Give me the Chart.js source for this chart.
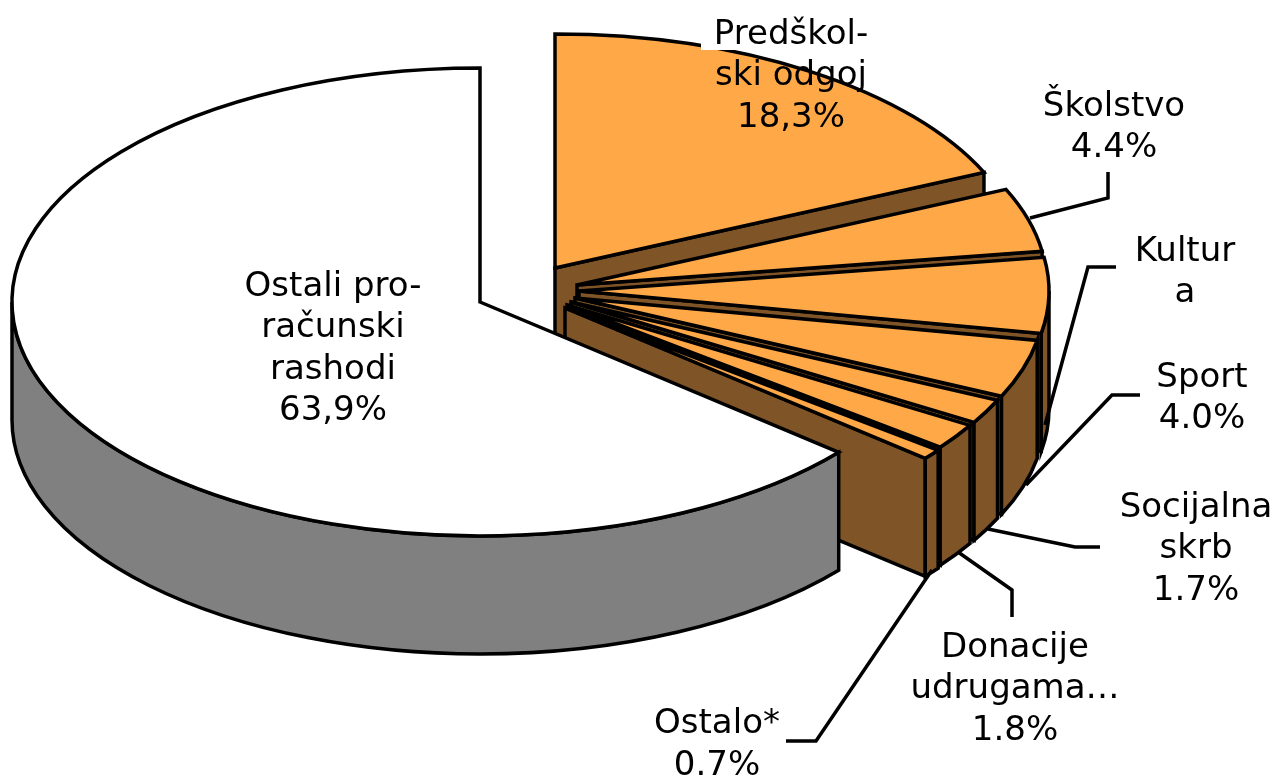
<!DOCTYPE html>
<html><head><meta charset="utf-8">
<style>html,body{margin:0;padding:0;background:#fff}#w{position:relative;width:1275px;height:776px}canvas{display:block}</style>
<script src="https://cdn.jsdelivr.net/npm/chart.js@4"></script>
</head><body><div id="w"><canvas id="c" width="1275" height="776"></canvas></div>
<script>
const categories = ['Predškolski odgoj','Školstvo','Kultura','Sport','Socijalna skrb','Donacije udrugama','Ostalo*','Ostali proračunski rashodi'];
const shares = [18.3,4.4,5.2,4.0,1.7,1.8,0.7,63.9];
const topColors = ['#FFA848','#FFA848','#FFA848','#FFA848','#FFA848','#FFA848','#FFA848','#FFFFFF'];
const sideColors = ['#7F5426','#7F5426','#7F5426','#7F5426','#7F5426','#7F5426','#7F5426','#808080'];

// Look of the 3D pie: where each exploded slice has its tip, ellipse radii, wall height.
const tips = [[555,268],[577,285],[579,291],[575,298],[571,302],[567,305],[565,308],[480,302]];
const radiiX = [470,470,470,470,470,470,470,468];
const RY = 234, DEPTH = 118, LW = 3.5;

const labelLayout = [
 {lines:['Predškol-','ski odgoj','18,3%'], x:791, y:35, bg:[701,8,170,42]},
 {lines:['Školstvo','4.4%'], x:1114, y:107},
 {lines:['Kultur','a'], x:1185, y:252},
 {lines:['Sport','4.0%'], x:1202, y:378},
 {lines:['Socijalna','skrb','1.7%'], x:1196, y:508},
 {lines:['Donacije','udrugama…','1.8%'], x:1015, y:648},
 {lines:['Ostalo*','0.7%'], x:717, y:724, lh:42},
 {lines:['Ostali pro-','računski','rashodi','63,9%'], x:333, y:287},
];
const leaders = [
 [[1030,218],[1108,198],[1108,172]],
 [[1045,425],[1088,267],[1116,267]],
 [[1026,485],[1112,395],[1140,395]],
 [[988,529],[1075,547],[1100,547]],
 [[958,552],[1012,590],[1012,617]],
 [[932,570],[816,741],[786,741]],
];

const pie3d = {
  id:'pie3d',
  beforeDatasetDraw(chart){
    const ctx = chart.ctx, arcs = chart.getDatasetMeta(0).data;
    ctx.save();
    ctx.lineJoin='miter'; ctx.lineWidth=LW; ctx.strokeStyle='#000';
    arcs.forEach((arc,i)=>{
      const {startAngle:a0,endAngle:a1,outerRadius:R,x:ex,y:ey} = arc;
      const [ax,ay] = tips[i], RX = radiiX[i];
      const pt = a => [ax+RX*Math.cos(a), ay+RY*Math.sin(a)];
      ctx.fillStyle = sideColors[i];
      if (i < arcs.length-1){
        const e = pt(a1);
        ctx.beginPath();
        ctx.moveTo(ax,ay); ctx.lineTo(e[0],e[1]); ctx.lineTo(e[0],e[1]+DEPTH); ctx.lineTo(ax,ay+DEPTH); ctx.closePath();
        ctx.fill(); ctx.stroke();
      }
      const s = Math.max(a0,0), t = Math.min(a1,Math.PI);
      if (t > s){
        ctx.beginPath();
        ctx.ellipse(ax,ay,RX,RY,0,s,t);
        ctx.ellipse(ax,ay+DEPTH,RX,RY,0,t,s,true);
        ctx.closePath(); ctx.fill(); ctx.stroke();
      }
      ctx.save();
      ctx.translate(ax,ay); ctx.scale(RX/R,RY/R); ctx.translate(-ex,-ey);
      arc.draw(ctx);
      ctx.restore();
      const p0=pt(a0);
      ctx.beginPath();
      ctx.moveTo(ax,ay); ctx.lineTo(p0[0],p0[1]);
      ctx.ellipse(ax,ay,RX,RY,0,a0,a1);
      ctx.closePath(); ctx.stroke();
    });
    ctx.restore();
    return false;
  },
  afterDatasetsDraw(chart){
    const ctx = chart.ctx;
    ctx.save();
    ctx.strokeStyle='#000'; ctx.lineWidth=LW; ctx.lineJoin='miter';
    leaders.forEach(l=>{ctx.beginPath();l.forEach((p,i)=>i?ctx.lineTo(p[0],p[1]):ctx.moveTo(p[0],p[1]));ctx.stroke();});
    ctx.font='34px "DejaVu Sans"'; ctx.textAlign='center'; ctx.textBaseline='middle'; ctx.fillStyle='#000';
    labelLayout.forEach(t=>{
      if(t.bg){ctx.fillStyle='#fff';ctx.fillRect(...t.bg);ctx.fillStyle='#000';}
      t.lines.forEach((s,k)=>ctx.fillText(s,t.x,t.y+k*(t.lh||41.5)));
    });
    ctx.restore();
  }
};

new Chart(document.getElementById('c'),{
  type:'pie',
  data:{labels:categories,datasets:[{data:shares,backgroundColor:topColors,borderWidth:0}]},
  options:{responsive:false,animation:false,plugins:{legend:{display:false},tooltip:{enabled:false}}},
  plugins:[pie3d]
});
</script></body></html>
